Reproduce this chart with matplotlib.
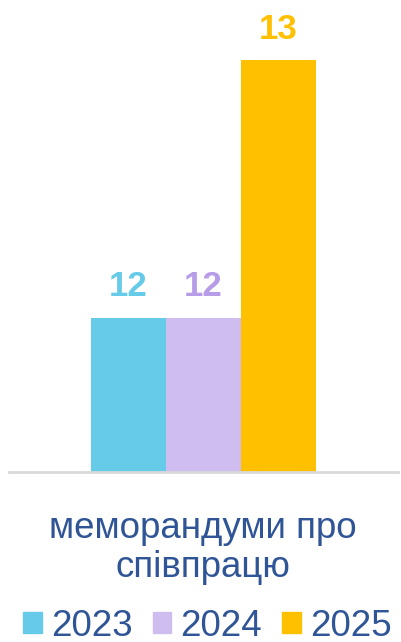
import matplotlib
matplotlib.use('Agg')
import matplotlib.pyplot as plt
from matplotlib.patches import Patch

plt.rcParams['font.family'] = ['Liberation Sans', 'DejaVu Sans']

category = 'меморандуми про\nспівпрацю'
years = ['2023', '2024', '2025']
values = [12, 12, 13]
bar_colors = ['#66CBE8', '#CFBDF0', '#FFC000']
label_colors = ['#66CBE8', '#B79CE8', '#FFC000']
text_color = '#2F5597'
ymin = 11.4

fig = plt.figure(figsize=(4.01, 6.42), dpi=100)
ax = fig.add_axes([9/401, 1 - 472/642, 389/401, 412/642])

w = 0.193
offsets = [-w, 0, w]
for i in range(3):
    ax.bar(offsets[i], values[i] - ymin, width=w, color=bar_colors[i], bottom=ymin,
           label=years[i])
    ax.text(offsets[i], values[i] + 0.12, str(values[i]), ha='center', va='center',
            fontsize=25, fontweight='bold', color=label_colors[i], clip_on=False)

ax.set_ylim(ymin, 13)
ax.set_xlim(-0.5, 0.5)
ax.set_yticks([])
ax.set_xticks([])
for s in ['top', 'right', 'left']:
    ax.spines[s].set_visible(False)
ax.spines['bottom'].set_color('#D9D9D9')
ax.spines['bottom'].set_linewidth(2)

fig.text(0.505, 1 - 548/642, category, ha='center', va='center', fontsize=26.5,
         color=text_color, linespacing=1.15)

handles = [Patch(color=c) for c in bar_colors]
fig.legend(handles, years, loc='center', bbox_to_anchor=(0.517, 1 - 626/642), ncol=3,
           frameon=False, fontsize=26.5, handlelength=0.5, handleheight=0.5,
           handletextpad=0.25, columnspacing=0.55, labelcolor=text_color,
           borderpad=0, borderaxespad=0)

fig.savefig('out.png', dpi=100)
